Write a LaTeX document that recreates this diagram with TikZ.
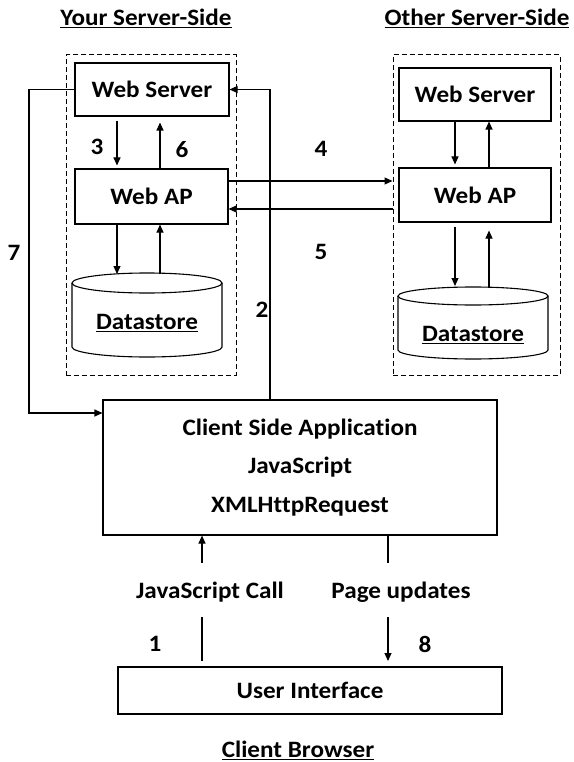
\documentclass[tikz,border=0pt]{standalone}
\usepackage{fontspec}
\setmainfont[FakeStretch=1.07,Ligatures=NoCommon]{Carlito}
\usetikzlibrary{arrows.meta,calc}
\begin{document}
\begin{tikzpicture}[x=1pt,y=-1pt,
  every node/.style={font=\fontsize{23.5}{28}\selectfont\bfseries},
  box/.style={draw,line width=1.1pt,inner sep=0pt},
  dbox/.style={draw,dash pattern=on 5pt off 3pt,line width=1pt,inner sep=0pt},
  arr/.style={line width=1.1pt,-{Triangle[length=8pt,width=7pt]}},
  ln/.style={line width=1.1pt},
  num/.style={inner sep=0pt}]
\useasboundingbox (0,0) rectangle (573,762);
% titles
\node (t1) at (146,18) {\underline{Your Server-Side}};
\node (t2) at (477,18) {\underline{Other Server-Side}};
% dashed groups
\node[dbox,minimum width=170pt,minimum height=320pt] (lbox) at (151,215) {};
\node[dbox,minimum width=167pt,minimum height=320pt] (rbox) at (476.5,215) {};
% boxes
\node[box,minimum width=154pt,minimum height=53pt] (lws) at (152,89.5) {Web Server};
\node[box,minimum width=153pt,minimum height=55pt] (lap) at (151.5,196.5) {Web AP};
\node[box,minimum width=152pt,minimum height=53pt] (rws) at (475,94.5) {Web Server};
\node[box,minimum width=152pt,minimum height=54pt] (rap) at (475,195) {Web AP};
% cylinders
\draw[ln] (147,283) ellipse [x radius=75, y radius=10];
\draw[ln] (72,283) -- (72,347) arc[start angle=180, end angle=0, x radius=75, y radius=10] -- (222,283);
\draw[ln] (473,296) ellipse [x radius=75, y radius=9];
\draw[ln] (398,296) -- (398,350) arc[start angle=180, end angle=0, x radius=75, y radius=9] -- (548,296);
\node (lds) at (147,323) {\underline{Datastore}};
\node (rds) at (473,335) {\underline{Datastore}};
\coordinate (ldsA) at (117,274);
\coordinate (ldsB) at (160,274);
\coordinate (rdsA) at (455,288);
\coordinate (rdsB) at (489,288);
% vertical arrows left
\draw[arr,shorten <=4pt,shorten >=3pt] (117,0 |- lws.south) -- (117,0 |- lap.north);
\draw[arr,shorten >=6pt] (160,0 |- lap.north) -- (160,0 |- lws.south);
\draw[arr] (117,0 |- lap.south) -- (ldsA);
\draw[arr] (ldsB) -- (160,0 |- lap.south);
% vertical arrows right
\draw[arr,shorten >=3pt] (455,0 |- rws.south) -- (455,0 |- rap.north);
\draw[arr] (489,0 |- rap.north) -- (489,0 |- rws.south);
\draw[arr,shorten <=4pt,shorten >=2pt] (455,0 |- rap.south) -- (rdsA);
\draw[arr,shorten >=8pt] (rdsB) -- (489,0 |- rap.south);
% 4 and 5
\draw[arr] (lap.east |- 0,181) -- (rbox.west |- 0,181);
\draw[arr] (rbox.west |- 0,209) -- (lap.east |- 0,209);
% client
\node[box,minimum width=394pt,minimum height=135pt,align=center,
  font=\fontsize{23.5}{38.5}\selectfont\bfseries] (client) at (300,467.5)
  {Client Side Application\\JavaScript\\XMLHttpRequest};
\node[box,minimum width=384pt,minimum height=47pt] (ui) at (310,690.5) {User Interface};
% 7 and 2
\draw[arr] (lws.west) -- (29,0 |- lws.west) -- (29,413) -- (client.west |- 0,413);
\draw[arr] (270,0 |- client.north) -- (270,0 |- lws.east) -- (lws.east);
% bottom
\node (jsc) at (210,592) {JavaScript Call};
\node (pu) at (401,592) {Page updates};
\coordinate (c1a) at (202,563);
\coordinate (c1b) at (202,617);
\coordinate (c1c) at (202,661);
\coordinate (c8a) at (388,563);
\coordinate (c8b) at (388,617);
\coordinate (c8c) at (388,661);
\draw[arr] (c1a) -- (202,0 |- client.south);
\draw[ln] (c1b) -- (c1c);
\draw[ln] (388,0 |- client.south) -- (c8a);
\draw[arr] (c8b) -- (c8c);
\node (cb) at (298,750) {\underline{Client Browser}};
% numbers
\node[num] (n3) at (97,147) {3};
\node[num] (n6) at (182,150) {6};
\node[num] (n4) at (321,149) {4};
\node[num] (n5) at (321,252) {5};
\node[num] (n7) at (14,253) {7};
\node[num] (n2) at (262,310) {2};
\node[num] (n1) at (155,644) {1};
\node[num] (n8) at (425,644) {8};
\end{tikzpicture}
\end{document}
